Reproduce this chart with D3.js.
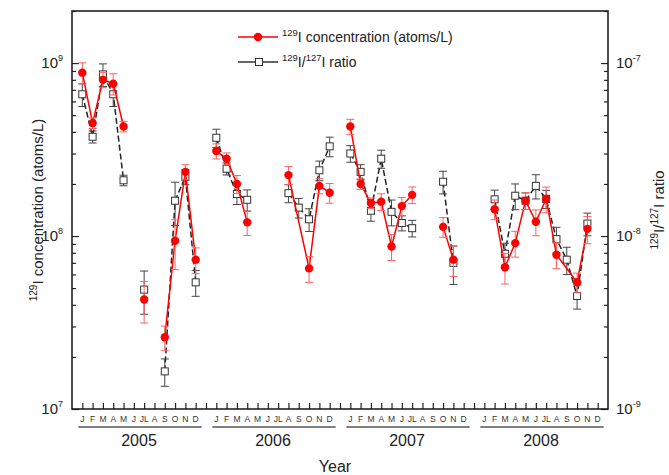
<!DOCTYPE html>
<html><head><meta charset="utf-8">
<script src="https://cdn.jsdelivr.net/npm/d3@7"></script>
<style>body{margin:0;background:#fff}svg{font-family:Arial,"Liberation Sans",sans-serif}</style>
</head><body><svg id="c" width="669" height="475"></svg>
<script>
const months = ["J","F","M","A","M","J","JL","A","S","O","N","D"];
const years = ["2005","2006","2007","2008"];
// 129I concentration (atoms/L), one row per year, null = no sample
const conc2005 = [8.8e8, 4.5e8, 8.0e8, 7.6e8, 4.3e8, null, 4.3e7, null, 2.6e7, 9.4e7, 2.35e8, 7.3e7];
const conc2006 = [3.1e8, 2.8e8, 2.0e8, 1.2e8, null, null, null, 2.25e8, null, 6.5e7, 1.95e8, 1.78e8];
const conc2007 = [4.3e8, 2.0e8, 1.55e8, 1.58e8, 8.7e7, 1.49e8, 1.73e8, null, null, 1.13e8, 7.3e7, null];
const conc2008 = [null, 1.43e8, 6.6e7, 9.1e7, 1.6e8, 1.21e8, 1.64e8, 7.8e7, null, 5.4e7, 1.1e8, null];
// 129I/127I ratio
const ratio2005 = [6.6e-8, 3.75e-8, 8.6e-8, 6.6e-8, 2.1e-8, null, 4.9e-9, null, 1.65e-9, 1.6e-8, 2.2e-8, 5.4e-9];
const ratio2006 = [3.7e-8, 2.45e-8, 1.75e-8, 1.62e-8, null, null, null, 1.77e-8, 1.46e-8, 1.25e-8, 2.4e-8, 3.3e-8];
const ratio2007 = [3.0e-8, 2.35e-8, 1.4e-8, 2.8e-8, 1.38e-8, 1.19e-8, 1.11e-8, null, null, 2.06e-8, 7.0e-9, null];
const ratio2008 = [null, 1.63e-8, 7.9e-9, 1.71e-8, 1.6e-8, 1.95e-8, 1.64e-8, 9.6e-9, 7.3e-9, 4.5e-9, 1.18e-8, null];
// relative errors
const concErr2005 = [0.14,0.07,0.1,0.14,0.07,null,0.27,null,0.16,0.32,0.1,0.17];
const concErr2006 = [0.1,0.08,0.12,0.16,null,null,null,0.12,null,0.17,0.1,0.13];
const concErr2007 = [0.1,0.07,0.07,0.11,0.17,0.12,0.11,null,null,0.13,0.2,null];
const concErr2008 = [null,0.13,0.2,0.17,0.11,0.17,0.17,0.17,null,0.13,0.18,null];
const ratioErr2005 = [0.15,0.08,0.15,0.15,0.07,null,0.28,null,0.18,0.28,0.1,0.17];
const ratioErr2006 = [0.12,0.08,0.13,0.14,null,null,null,0.12,0.13,0.15,0.13,0.13];
const ratioErr2007 = [0.11,0.1,0.13,0.12,0.17,0.1,0.11,null,null,0.15,0.25,null];
const ratioErr2008 = [null,0.13,0.15,0.17,0.11,0.16,0.12,0.17,0.18,0.16,0.15,null];
// connected sampling runs (month index ranges over 48 months)
const runs = [[0,4],[8,11],[12,15],[19,23],[24,30],[33,34],[37,46]];
const leftTicks = [1e7, 1e8, 1e9];
const rightTicks = [1e-9, 1e-8, 1e-7];

const conc = [].concat(conc2005, conc2006, conc2007, conc2008);
const ratio = [].concat(ratio2005, ratio2006, ratio2007, ratio2008);
const concErr = [].concat(concErr2005, concErr2006, concErr2007, concErr2008);
const ratioErr = [].concat(ratioErr2005, ratioErr2006, ratioErr2007, ratioErr2008);

const L = 72, R = 608, T = 11, B = 409;
const svg = d3.select("#c");
const x = d3.scaleLinear().domain([0, 52]).range([L, R]);
const y = d3.scaleLog().domain([1e7, 2e9]).range([B, T]);
const yR = d3.scaleLog().domain([1e-9, 2e-7]).range([B, T]);
const mu = i => Math.floor(i / 12) * 13 + (i % 12) + 1;

function minors(lo, hi) {
  const out = [];
  for (let p = lo; p < hi; p++) for (let k = 2; k <= 9; k++) out.push(k * Math.pow(10, p));
  return out;
}

// axes (inward ticks)
const axG = svg.append("g");
const lMin = minors(7, 9).concat([2e9]);
axG.append("g").attr("transform", `translate(${L},0)`).call(d3.axisLeft(y).tickValues(leftTicks).tickSize(-7).tickFormat(""));
axG.append("g").attr("transform", `translate(${L},0)`).call(d3.axisLeft(y).tickValues(lMin).tickSize(-4).tickFormat(""));
const rMin = minors(-9, -7).concat([2e-7]);
axG.append("g").attr("transform", `translate(${R},0)`).call(d3.axisRight(yR).tickValues(rightTicks).tickSize(-7).tickFormat(""));
axG.append("g").attr("transform", `translate(${R},0)`).call(d3.axisRight(yR).tickValues(rMin).tickSize(-4).tickFormat(""));
axG.append("g").attr("transform", `translate(0,${B})`).call(d3.axisBottom(x).tickValues(d3.range(1, 52)).tickSize(-6).tickFormat(""));
axG.selectAll(".domain").remove();
axG.selectAll(".tick line").attr("stroke", "#222").attr("stroke-width", 1.2);

svg.append("rect").attr("x", L).attr("y", T).attr("width", R - L).attr("height", B - T)
  .attr("fill", "none").attr("stroke", "#222").attr("stroke-width", 1.6);

// tick labels
function pow10(g, xx, yy, exp, anchor) {
  const t = g.append("text").attr("x", xx).attr("y", yy + 5).attr("font-size", 15).attr("fill", "#222").attr("text-anchor", anchor);
  t.append("tspan").text("10");
  t.append("tspan").attr("font-size", 9).attr("dy", -7).text(exp);
}
leftTicks.forEach(v => pow10(svg, 63, y(v), String(Math.round(Math.log10(v))), "end"));
rightTicks.forEach(v => pow10(svg, 616, yR(v), String(Math.round(Math.log10(v))), "start"));

// month labels, underlines, years
years.forEach((yr, yi) => {
  months.forEach((m, mi) => {
    svg.append("text").attr("x", x(yi * 13 + mi + 1)).attr("y", 422).attr("font-size", 8.5)
      .attr("fill", "#333").attr("text-anchor", "middle").text(m);
  });
  svg.append("line").attr("x1", x(yi * 13 + 1) - 4).attr("x2", x(yi * 13 + 12) + 6)
    .attr("y1", 427).attr("y2", 427).attr("stroke", "#555").attr("stroke-width", 1.5);
  svg.append("text").attr("x", x(yi * 13 + 6.5)).attr("y", 446).attr("font-size", 16)
    .attr("fill", "#222").attr("text-anchor", "middle").text(yr);
});
svg.append("text").attr("x", 335).attr("y", 472).attr("font-size", 16).attr("fill", "#222")
  .attr("text-anchor", "middle").text("Year");

// axis titles
const lt = svg.append("text").attr("transform", `translate(43,${(T + B) / 2}) rotate(-90)`)
  .attr("font-size", 15).attr("fill", "#222").attr("text-anchor", "middle");
lt.append("tspan").attr("font-size", 10).attr("dy", -6).text("129");
lt.append("tspan").attr("dy", 6).text("I concentration (atoms/L)");
const rt = svg.append("text").attr("transform", `translate(664,${(T + B) / 2}) rotate(-90)`)
  .attr("font-size", 15).attr("fill", "#222").attr("text-anchor", "middle");
rt.append("tspan").attr("font-size", 10).attr("dy", -6).text("129");
rt.append("tspan").attr("dy", 6).text("I/");
rt.append("tspan").attr("font-size", 10).attr("dy", -6).text("127");
rt.append("tspan").attr("dy", 6).text("I ratio");

// series drawing
function drawSeries(vals, errs, sc, col, errCol, dash, marker) {
  const g = svg.append("g");
  const line = d3.line().x(d => x(mu(d.i))).y(d => sc(d.v));
  runs.forEach(([a, b]) => {
    const pts = [];
    for (let i = a; i <= b; i++) if (vals[i] != null) pts.push({ i, v: vals[i] });
    if (pts.length > 1) g.append("path").attr("d", line(pts)).attr("fill", "none")
      .attr("stroke", col).attr("stroke-width", 1.5).attr("stroke-dasharray", dash);
  });
  vals.forEach((v, i) => {
    if (v == null) return;
    const xx = x(mu(i)), e = errs[i] || 0;
    const y1 = sc(v * (1 + e)), y2 = sc(v * (1 - e));
    g.append("line").attr("x1", xx).attr("x2", xx).attr("y1", y1).attr("y2", y2).attr("stroke", errCol).attr("stroke-width", 1);
    [y1, y2].forEach(yy => g.append("line").attr("x1", xx - 4).attr("x2", xx + 4).attr("y1", yy).attr("y2", yy)
      .attr("stroke", errCol).attr("stroke-width", 1));
  });
  vals.forEach((v, i) => {
    if (v == null) return;
    marker(g, x(mu(i)), sc(v));
  });
}
const square = (g, xx, yy) => g.append("rect").attr("x", xx - 3.5).attr("y", yy - 3.5).attr("width", 7).attr("height", 7)
  .attr("fill", "#fff").attr("stroke", "#333").attr("stroke-width", 1);
const dot = (g, xx, yy) => g.append("circle").attr("cx", xx).attr("cy", yy).attr("r", 4.2).attr("fill", "#f00");

drawSeries(ratio, ratioErr, yR, "#222", "#444", "6,3", square);
drawSeries(conc, concErr, y, "#f00", "#ff6060", null, dot);

// legend
const lg = svg.append("g");
lg.append("line").attr("x1", 238).attr("x2", 278).attr("y1", 37).attr("y2", 37).attr("stroke", "#f00").attr("stroke-width", 1.4);
dot(lg, 258, 37);
lg.append("line").attr("x1", 238).attr("x2", 278).attr("y1", 62).attr("y2", 62).attr("stroke", "#333").attr("stroke-width", 1.6);
square(lg, 259, 62);
const t1 = lg.append("text").attr("x", 282).attr("y", 42).attr("font-size", 14).attr("fill", "#222");
t1.append("tspan").attr("font-size", 9.5).attr("dy", -6).text("129");
t1.append("tspan").attr("dy", 6).text("I concentration (atoms/L)");
const t2 = lg.append("text").attr("x", 282).attr("y", 67).attr("font-size", 14).attr("fill", "#222");
t2.append("tspan").attr("font-size", 9.5).attr("dy", -6).text("129");
t2.append("tspan").attr("dy", 6).text("I/");
t2.append("tspan").attr("font-size", 9.5).attr("dy", -6).text("127");
t2.append("tspan").attr("dy", 6).text("I ratio");
</script></body></html>
